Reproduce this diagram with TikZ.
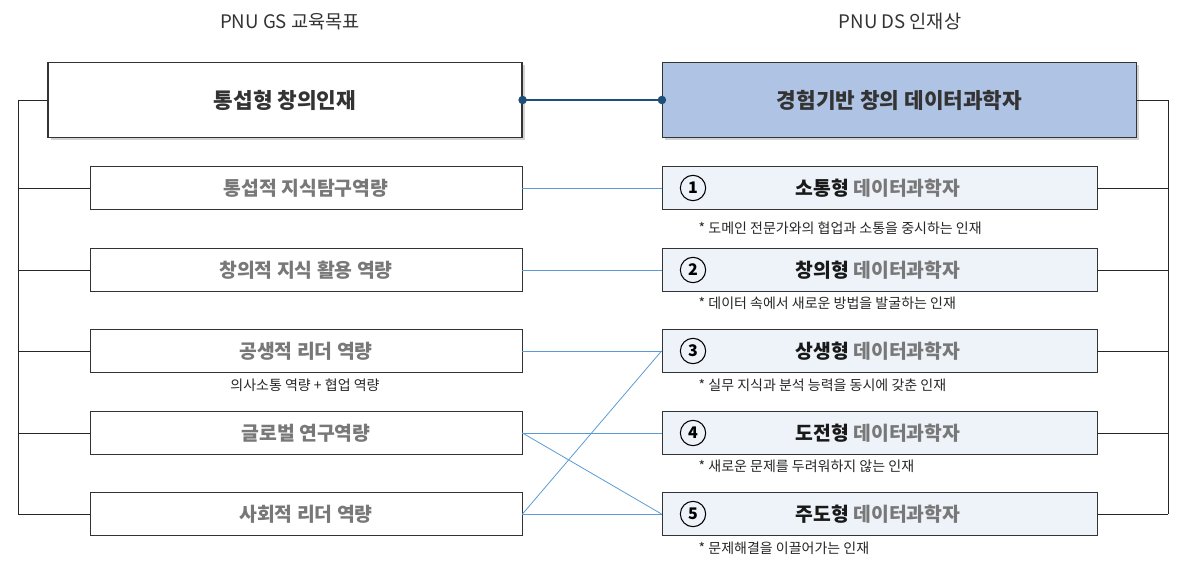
\documentclass[tikz,border=0pt]{standalone}
\usepackage{fontspec}
\setmainfont{Noto Sans CJK KR}
\usetikzlibrary{shadows}
\definecolor{dblue}{HTML}{1F4E79}
\definecolor{lblue}{HTML}{5B9BD5}
\definecolor{bigfill}{HTML}{AFC3E4}
\definecolor{smfill}{HTML}{EEF2F9}
\definecolor{gtxt}{HTML}{787878}
\definecolor{dtxt}{HTML}{333333}
\begin{document}
\begin{tikzpicture}[x=0.75pt,y=-0.75pt,
  big/.style={draw=black!80,line width=0.9pt,minimum width=474*0.75pt,minimum height=75*0.75pt,font=\fontsize{16}{18}\selectfont\bfseries,text=dtxt,drop shadow={opacity=0.35,shadow xshift=2pt,shadow yshift=-2pt}},
  lbox/.style={draw=black!80,line width=0.7pt,fill=white,minimum width=432*0.75pt,minimum height=43*0.75pt,font=\fontsize{14.5}{16}\selectfont\bfseries,text=gtxt},
  rbox/.style={draw=black!80,line width=0.7pt,fill=smfill,minimum width=435*0.75pt,minimum height=43*0.75pt,font=\fontsize{14.5}{16}\selectfont\bfseries,text=gtxt},
  num/.style={circle,draw=black,line width=0.8pt,inner sep=0pt,minimum size=19pt,font=\fontsize{12}{12}\selectfont\bfseries,text=black},
  sub/.style={font=\fontsize{10.5}{12}\selectfont,text=black!85},
  tree/.style={draw=black!85,line width=0.6pt},
  bl/.style={draw=lblue,line width=0.6pt}]
\useasboundingbox (0,0) rectangle (1188,570);
\node[font=\fontsize{14}{16}\selectfont,text=dtxt] (tl) at (290,22) {PNU GS 교육목표};
\node[font=\fontsize{14}{16}\selectfont,text=dtxt] (tr) at (900,22) {PNU DS 인재상};
\node[big,fill=white] (L0) at (285,100) {통섭형 창의인재};
\node[big,fill=bigfill] (R0) at (899.5,100) {경험기반 창의 데이터과학자};
\foreach \i/\y/\t in {1/188/통섭적 지식탐구역량,2/270/창의적 지식 활용 역량,3/351/공생적 리더 역량,4/433/글로벌 연구역량,5/514/사회적 리더 역량}
  \node[lbox] (L\i) at (306,\y) {\t};
\foreach \i/\y/\t/\s/\sy in {1/188/소통형/도메인 전문가와의 협업과 소통을 중시하는 인재/228,2/270/창의형/데이터 속에서 새로운 방법을 발굴하는 인재/303,3/351/상생형/실무 지식과 분석 능력을 동시에 갖춘 인재/385,4/433/도전형/새로운 문제를 두려워하지 않는 인재/466,5/514/주도형/문제해결을 이끌어가는 인재/548}{
  \node[rbox] (R\i) at (879.5,\y) {};
  \node[num] (N\i) at (693,\y) {\i};
  \node[font=\fontsize{14.5}{16}\selectfont\bfseries] (T\i) at (878,\y) {\textcolor{black!90}{\t} \textcolor{gtxt}{데이터과학자}};
  \node[sub,anchor=west] (S\i) at (694,\sy) {* \s};
}
\node[sub] (LS3) at (305,385) {의사소통 역량 + 협업 역량};
% left tree
\coordinate (lt) at (18,100); \coordinate (lb) at (18,514);
\draw[tree] (lt) -- (lb);
\draw[tree] (lt) -- (L0.west);
\foreach \i in {1,...,5} \draw[tree] (L\i.west) -- (L\i.west -| lt);
% right tree
\coordinate (rt) at (1168,100); \coordinate (rb) at (1168,514);
\draw[tree] (rt) -- (rb);
\draw[tree] (rt) -- (R0.east);
\foreach \i in {1,...,5} \draw[tree] (R\i.east) -- (R\i.east -| rt);
% main link
\draw[dblue,line width=1.3pt] (L0.east) -- (R0.west);
\fill[dblue] (L0.east) circle (3.2pt) (R0.west) circle (3.2pt);
% blue links
\draw[bl] (L1.east) -- (R1.west);
\draw[bl] (L2.east) -- (R2.west);
\draw[bl] (L3.east) -- (R3.west);
\draw[bl] (L4.east) -- (R4.west);
\draw[bl] (L4.east) -- (R5.west);
\draw[bl] (L5.east) -- (R3.west);
\draw[bl] (L5.east) -- (R5.west);
\end{tikzpicture}
\end{document}
